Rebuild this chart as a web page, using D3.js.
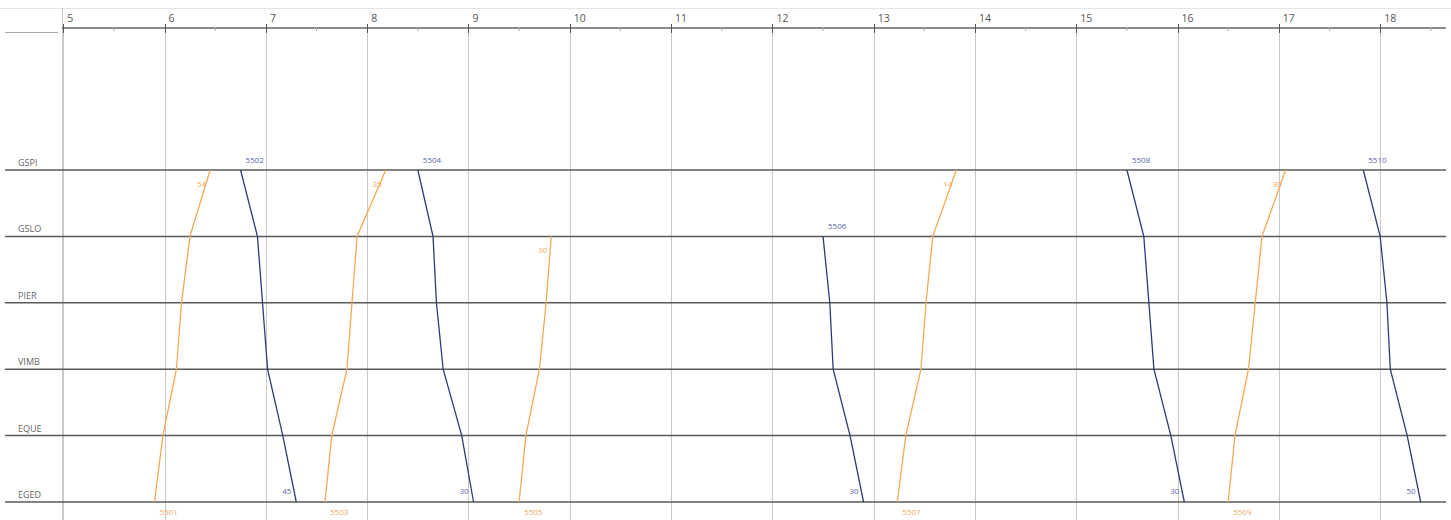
<!DOCTYPE html>
<meta charset="utf-8">
<head>
<style>
  body { margin: 0; background: #fff; }
  text { font-family: "Open Sans", "DejaVu Sans", sans-serif; }
</style>
</head>
<svg id="graph" width="1451" height="520"></svg>
<script src="https://d3js.org/d3.v7.min.js"></script>
<script>

// stations, top to bottom
var stations = ["GSPI", "GSLO", "PIER", "VIMB", "EQUE", "EGED"];
var hours = [5, 6, 7, 8, 9, 10, 11, 12, 13, 14, 15, 16, 17, 18];

// trains: odd = up (EGED -> GSPI), even = down
var trainIds = ["5501", "5502", "5503", "5504", "5505", "5506", "5507", "5508", "5509", "5510"];
// passing times per station, same order as stations (null = not served)
var trainTimes = [
  ["6:27", "6:15", "6:10", "6:07", "5:59", "5:54"],
  ["6:45", "6:55", "6:58", "7:01", "7:10", "7:18"],
  ["8:11", "7:54", "7:51", "7:48", "7:39", "7:35"],
  ["8:30", "8:39", "8:41", "8:45", "8:56", "9:03"],
  [null,   "9:49", "9:46", "9:42", "9:34", "9:30"],
  [null,   "12:30", "12:34", "12:36", "12:46", "12:54"],
  ["13:49", "13:35", "13:31", "13:28", "13:19", "13:14"],
  ["15:30", "15:40", "15:43", "15:46", "15:56", "16:04"],
  ["17:04", "16:50", "16:46", "16:42", "16:34", "16:30"],
  ["17:50", "18:00", "18:04", "18:06", "18:16", "18:24"]
];

var svg = d3.select("#graph"),
  width = +svg.attr("width"),
  height = +svg.attr("height");

function toHours(s) {
  var p = s.split(":");
  return +p[0] + (+p[1]) / 60;
}

var x = d3.scaleLinear().domain([5, 18.64]).range([63.3, 1445]);
var y = d3.scalePoint().domain(stations).range([170, 502]);

var orange = "#f6a952", blue = "#2f3b78";

// header frame
svg.append("line").attr("x1", 0).attr("x2", width).attr("y1", 8.5).attr("y2", 8.5)
  .attr("stroke", "#e4e4e4");
svg.append("line").attr("x1", 5).attr("x2", 58).attr("y1", 32.5).attr("y2", 32.5)
  .attr("stroke", "#aaa").attr("stroke-width", 1);

// hour grid
svg.append("g").selectAll("line")
  .data(hours)
  .enter().append("line")
    .attr("x1", function(d) { return Math.round(x(d)) + 0.5; })
    .attr("x2", function(d) { return Math.round(x(d)) + 0.5; })
    .attr("y1", 28).attr("y2", height)
    .attr("stroke", "#c8c8c8");

// left column separator
svg.append("line").attr("x1", 62.5).attr("x2", 62.5).attr("y1", 8).attr("y2", height)
  .attr("stroke", "#c8c8c8");

// time axis
svg.append("line").attr("x1", 62).attr("x2", 1446).attr("y1", 28).attr("y2", 28)
  .attr("stroke", "#8a8a8a").attr("stroke-width", 2);

var minor = [];
hours.forEach(function(h) { if (h + 0.5 < 18.64) minor.push(h + 0.5); });
svg.append("g").selectAll("line")
  .data(minor)
  .enter().append("line")
    .attr("x1", function(d) { return x(d); })
    .attr("x2", function(d) { return x(d); })
    .attr("y1", 27).attr("y2", 31)
    .attr("stroke", "#aaa");

svg.append("g").selectAll("line")
  .data(hours)
  .enter().append("line")
    .attr("x1", function(d) { return Math.round(x(d)) + 0.5; })
    .attr("x2", function(d) { return Math.round(x(d)) + 0.5; })
    .attr("y1", 24).attr("y2", 33)
    .attr("stroke", "#555");

svg.append("g").selectAll("text")
  .data(hours)
  .enter().append("text")
    .attr("x", function(d) { return x(d) + 4; })
    .attr("y", 22)
    .attr("font-size", 10.5)
    .attr("fill", "#555")
    .text(function(d) { return d; });

// station lines and names
svg.append("g").selectAll("line")
  .data(stations)
  .enter().append("line")
    .attr("x1", 5).attr("x2", 1446)
    .attr("y1", function(d) { return y(d); })
    .attr("y2", function(d) { return y(d); })
    .attr("stroke", "#5a5a5a").attr("stroke-width", 1.5);

svg.append("g").selectAll("text")
  .data(stations)
  .enter().append("text")
    .attr("x", 18)
    .attr("y", function(d) { return y(d) - 4; })
    .attr("font-size", 9)
    .attr("fill", "#666")
    .text(function(d) { return d; });

// trains
var trains = trainIds.map(function(id, i) {
  var pts = [];
  trainTimes[i].forEach(function(t, j) {
    if (t) pts.push({ t: toHours(t), st: stations[j], min: t.split(":")[1] });
  });
  var up = (+id) % 2 == 1;
  if (up) pts.reverse();
  return { id: id, up: up, pts: pts };
});

var line = d3.line()
  .x(function(d) { return x(d.t); })
  .y(function(d) { return y(d.st); });

var g = svg.append("g");

g.selectAll("path")
  .data(trains)
  .enter().append("path")
    .attr("d", function(d) { return line(d.pts); })
    .attr("fill", "none")
    .attr("stroke", function(d) { return d.up ? orange : blue; })
    .attr("stroke-width", 1.3);

// train number at the start
g.selectAll("text.id")
  .data(trains)
  .enter().append("text")
    .attr("class", "id")
    .attr("x", function(d) { return x(d.pts[0].t) + 5; })
    .attr("y", function(d) { return d.up ? y(d.pts[0].st) + 13 : y(d.pts[0].st) - 7; })
    .attr("font-size", 8)
    .attr("fill", function(d) { return d.up ? "#f3a860" : "#5a67a8"; })
    .text(function(d) { return d.id; });

// departure minute at the far end
g.selectAll("text.min")
  .data(trains)
  .enter().append("text")
    .attr("class", "min")
    .attr("x", function(d) { var e = d.pts[d.pts.length - 1]; return x(e.t) - (d.up ? 4 : 5); })
    .attr("y", function(d) { var e = d.pts[d.pts.length - 1]; return d.up ? y(e.st) + 17 : y(e.st) - 8; })
    .attr("text-anchor", "end")
    .attr("font-size", 8)
    .attr("fill", function(d) { return d.up ? "#f3a860" : "#5a67a8"; })
    .text(function(d) { return d.pts[0].min; });

</script>
